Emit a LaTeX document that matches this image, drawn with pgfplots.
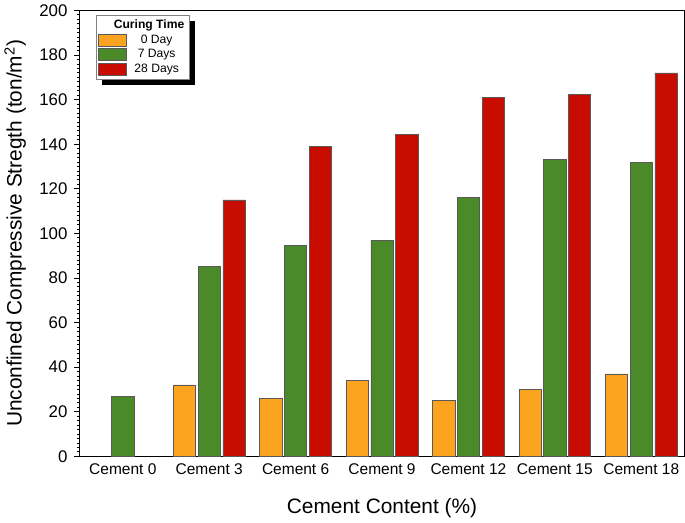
\documentclass[border=0pt]{standalone}
\usepackage{fontspec}
\setmainfont{Liberation Sans}
\usepackage{pgfplots}
\pgfplotsset{compat=1.18}
\pgfdeclarelayer{shadowlayer}
\pgfsetlayers{shadowlayer,main}

\definecolor{day0}{HTML}{FCA420}
\definecolor{day7}{HTML}{4A8A28}
\definecolor{day28}{HTML}{C80C00}

\pgfplotsset{
  mybar/.style={ybar, bar width=0.257, draw=gray!70!black, line width=0.5pt,
    fill=#1,
    legend image code/.code={\draw[##1] (0cm,-0.15cm) rectangle (0.72cm,0.16cm);}},
}

\begin{document}
\begin{tikzpicture}
\begin{axis}[
  scale only axis,
  width=449pt, height=331pt,
  xmin=-0.5, xmax=6.5,
  ymin=0, ymax=200,
  xtick={0,...,6},
  xticklabels={Cement 0,Cement 3,Cement 6,Cement 9,Cement 12,Cement 15,Cement 18},
  x tick style={draw=none},
  ytick={0,20,...,200},
  minor y tick num=9,
  ytick pos=left,
  tick align=outside,
  major tick length=4pt,
  minor tick length=2.2pt,
  axis line style={line width=0.8pt},
  every tick/.style={line width=0.6pt},
  yticklabel style={font=\fontsize{12.5}{14}\selectfont, xshift=-1.5pt},
  xticklabel style={font=\fontsize{11.5}{13}\selectfont, yshift=2pt},
  /pgf/number format/assume math mode=true,
  xlabel={Cement Content (\%)},
  ylabel={Unconfined Compressive Stregth (ton/m\textsuperscript{2})},
  label style={font=\fontsize{15.5}{18}\selectfont},
  xlabel style={yshift=-11pt},
  ylabel style={yshift=3pt},
  legend style={name=leg, at={(0,1)}, xshift=12pt, yshift=-3.5pt, anchor=north west,
    draw=gray,
    font=\fontsize{9}{10.5}\selectfont, inner sep=1.5pt, row sep=-1pt,
    cells={anchor=center}},
]
\addlegendimage{empty legend}
\addlegendentry{\makebox[41pt][r]{\textbf{Curing Time}}}

\addplot[mybar=day0, bar shift=-0.286] coordinates {
  (1,32) (2,26) (3,34) (4,25) (5,30) (6,37)
};
\addlegendentry{0 Day}

\addplot[mybar=day7, bar shift=0] coordinates {
  (0,27) (1,85) (2,94.5) (3,97) (4,116) (5,133) (6,132)
};
\addlegendentry{7 Days}

\addplot[mybar=day28, bar shift=0.286] coordinates {
  (1,115) (2,139) (3,144.5) (4,161) (5,162.5) (6,172)
};
\addlegendentry{28 Days}
\end{axis}
\begin{pgfonlayer}{shadowlayer}
  \fill[black] ([xshift=4.5pt,yshift=-4pt]leg.south west)
    rectangle ([xshift=4.5pt,yshift=-4pt]leg.north east);
\end{pgfonlayer}
\end{tikzpicture}
\end{document}
